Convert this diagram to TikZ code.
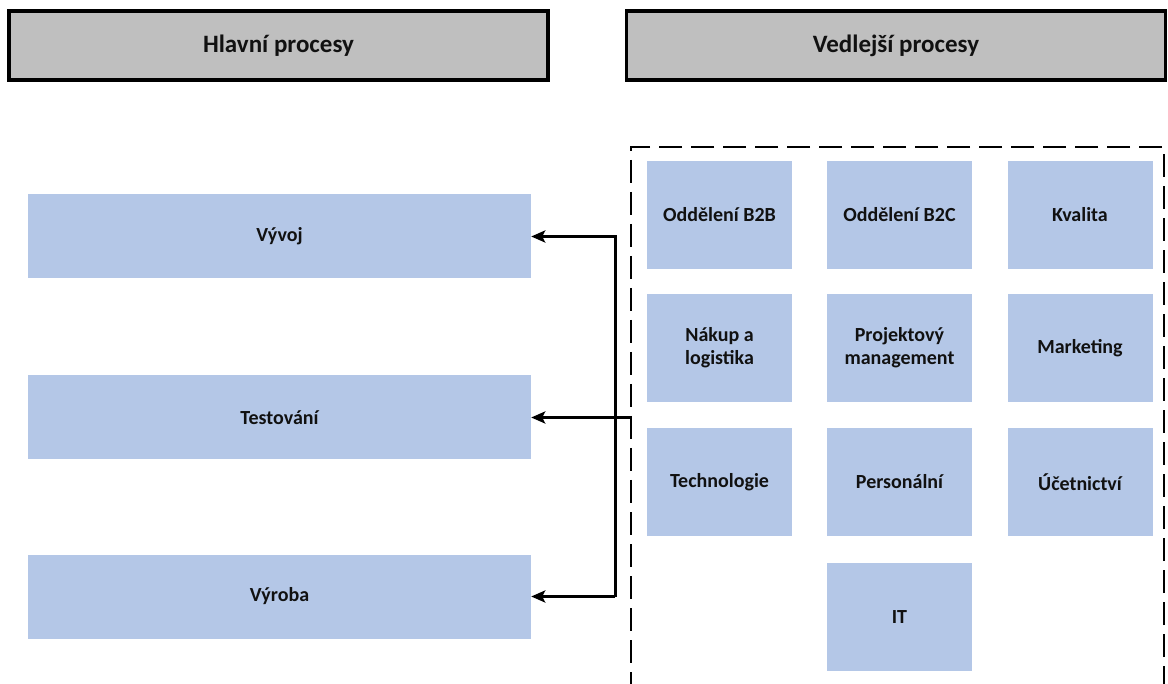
\documentclass[tikz,border=0pt]{standalone}
\usepackage{fontspec}
\setmainfont{Carlito}
\usetikzlibrary{arrows.meta}

\definecolor{procblue}{HTML}{B4C7E7}
\definecolor{headgray}{HTML}{BFBFBF}
\definecolor{labelink}{HTML}{111111}

\tikzset{
  header/.style={draw=black, line width=3.5pt, fill=headgray, inner sep=0pt,
    minimum width=539pt, minimum height=69pt,
    font=\fontsize{25}{29}\selectfont\bfseries, text=labelink},
  mainproc/.style={fill=procblue, inner sep=0pt,
    minimum width=503pt, minimum height=84pt,
    font=\fontsize{20}{24}\selectfont\bfseries, text=labelink},
  subproc/.style={fill=procblue, inner sep=0pt, align=center,
    minimum width=145pt, minimum height=108pt,
    font=\fontsize{20}{23}\selectfont\bfseries, text=labelink},
  groupframe/.style={draw=black, line width=2.5pt, dash pattern=on 23pt off 9pt,
    inner sep=0pt},
  link/.style={draw=black, line width=3pt,
    -{Stealth[length=14pt, width=12pt, inset=3pt]}},
}

\begin{document}
\begin{tikzpicture}[x=1pt, y=-1pt]
  \clip (0,0) rectangle (1168,684);

  % column headings
  \node[header] (hdrL) at (278.5, 45.5) {Hlavní procesy};
  \node[header] (hdrR) at (896, 45.5) {Vedlejší procesy};

  % main processes
  \node[mainproc] (vyvoj)     at (279.5, 236.5) {Vývoj};
  \node[mainproc] (testovani) at (279.5, 417.5) {Testování};
  \node[mainproc] (vyroba)    at (279.5, 596.5) {Výroba};

  % frame round the supporting processes (runs past the lower edge)
  \node[groupframe, minimum width=533pt, minimum height=553pt] (sec)
    at (897.5, 423.5) {};

  % supporting processes
  \node[subproc] (b2b)   at (719.5, 215) {Oddělení B2B};
  \node[subproc] (b2c)   at (899.5, 215) {Oddělení B2C};
  \node[subproc] (kval)  at (1080, 215)  {Kvalita};
  \node[subproc] (nakup) at (719.5, 348) {Nákup a\\logistika};
  \node[subproc] (pm)    at (899.5, 348) {Projektový\\management};
  \node[subproc] (mkt)   at (1080, 348)  {Marketing};
  \node[subproc] (tech)  at (719.5, 482) {Technologie};
  \node[subproc] (pers)  at (899.5, 482) {Personální};
  \node[subproc] (ucet)  at (1080, 482)  {Účetnictví};
  \node[subproc] (it)    at (899.5, 617) {IT};

  % connectors from the supporting block to the main processes
  \coordinate (bus) at (615, 0);
  \draw[link] (vyroba.east -| bus) |- (vyvoj.east);
  \draw[link] (vyroba.east -| bus) -- (vyroba.east);
  \draw[link] (testovani.east -| sec.west) -- (testovani.east);
\end{tikzpicture}
\end{document}
